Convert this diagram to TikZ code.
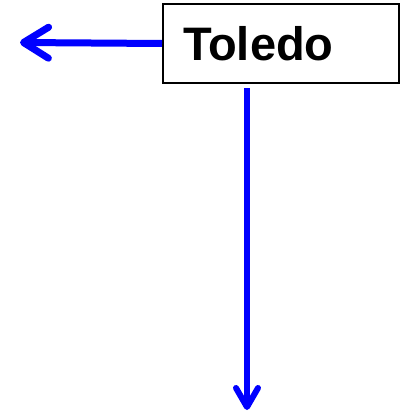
\documentclass[tikz,border=0pt]{standalone}
\usepackage{fontspec}
\setmainfont{Liberation Sans}
\usetikzlibrary{arrows.meta}
\begin{document}
\begin{tikzpicture}[x=1pt,y=-1pt,
  citybox/.style={draw=black,line width=2pt,rectangle,minimum width=236pt,minimum height=79pt,
    inner xsep=20pt,inner ysep=0pt,text width=196pt,align=left,font=\bfseries\fontsize{47}{50}\selectfont,anchor=north west},
  bluearrow/.style={draw=blue,line cap=butt}]
\useasboundingbox (0,0) rectangle (400,412);
\node[citybox] (t) at (162,3) {Toledo};
\coordinate (lend) at (20,42.5);
\coordinate (dstart) at (247,88);
\coordinate (dend) at (247,410);
\draw[bluearrow,line width=7pt,-{Straight Barb[length=25pt,width=31pt,round]}] (t.west) -- (lend);
\draw[bluearrow,line width=6pt,-{Straight Barb[length=19pt,width=22pt,round]}] (dstart) -- (dend);
\end{tikzpicture}
\end{document}
